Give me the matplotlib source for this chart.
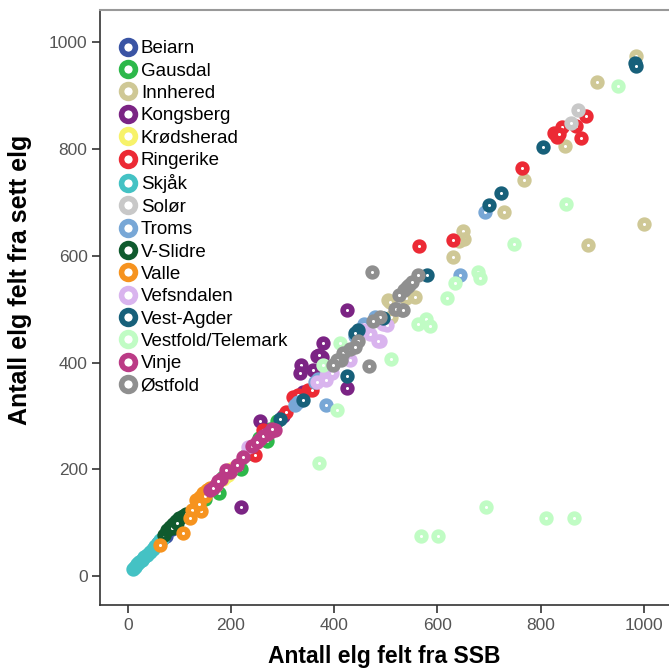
import matplotlib.pyplot as plt
from matplotlib.lines import Line2D

# --- data (x = Antall elg felt fra SSB, y = Antall elg felt fra sett elg) ---
groups = ["Beiarn", "Gausdal", "Innhered", "Kongsberg", "Krødsherad", "Ringerike",
          "Skjåk", "Solør", "Troms", "V-Slidre", "Valle", "Vefsndalen",
          "Vest-Agder", "Vestfold/Telemark", "Vinje", "Østfold"]

colors = ["#3a54a4", "#2db84a", "#cfc896", "#7b2484", "#f7f26a", "#ec2a35",
          "#44c2c4", "#c8c8c8", "#78a7d6", "#0f5a2e", "#f6931f", "#d9b4ee",
          "#17607a", "#c0fcc4", "#bb3b86", "#8f8f8f"]

beiarn_x = [58, 66, 74, 85]
beiarn_y = [62, 70, 76, 88]

gausdal_x = [177, 220, 269, 150, 165, 185, 200, 230, 255, 275, 290]
gausdal_y = [155, 200, 253, 145, 165, 185, 198, 228, 258, 275, 290]

innhered_x = [985, 909, 848, 768, 729, 1000, 892, 649, 652, 642, 631, 557, 505, 508, 511, 540]
innhered_y = [974, 925, 806, 742, 682, 659, 620, 646, 632, 627, 598, 523, 517, 514, 486, 520]

kongsberg_x = [425, 379, 366, 376, 371, 335, 334, 359, 424, 256, 220, 300, 340]
kongsberg_y = [498, 436, 412, 411, 414, 395, 381, 386, 353, 291, 129, 300, 345]

krodsherad_x = [170, 185, 190, 195, 200]
krodsherad_y = [170, 182, 188, 190, 200]

ringerike_x = [889, 868, 841, 826, 832, 836, 879, 764, 630, 565, 321, 350, 356, 306, 262, 246, 330]
ringerike_y = [861, 843, 841, 830, 822, 828, 820, 765, 630, 619, 336, 348, 348, 308, 273, 227, 340]

skjak_x = [10, 14, 18, 22, 27, 32, 37, 42, 48, 53, 58, 62, 67]
skjak_y = [14, 18, 22, 26, 31, 36, 40, 45, 51, 56, 62, 67, 70]

solor_x = [872, 859]
solor_y = [872, 849]

troms_x = [693, 643, 457, 369, 363, 324, 330, 385, 480, 440]
troms_y = [681, 564, 472, 370, 364, 320, 326, 320, 485, 450]

vslidre_x = [70, 76, 82, 88, 94, 100, 106, 112, 85, 96]
vslidre_y = [78, 86, 92, 98, 104, 108, 112, 117, 90, 100]

valle_x = [107, 63, 142, 125, 120, 133, 140, 146, 153, 137, 150, 160]
valle_y = [81, 58, 122, 124, 108, 142, 148, 155, 161, 135, 150, 165]

vefsndalen_x = [495, 489, 502, 484, 469, 431, 385, 395, 367, 385, 233, 455, 420]
vefsndalen_y = [473, 440, 470, 441, 454, 404, 375, 380, 364, 368, 242, 460, 420]

vestagder_x = [983, 985, 804, 724, 701, 579, 494, 447, 425, 339, 294, 440]
vestagder_y = [960, 955, 803, 718, 695, 563, 483, 461, 375, 330, 295, 455]

vestfold_x = [951, 849, 749, 678, 683, 634, 618, 563, 578, 586, 510, 694, 811, 865,
              569, 602, 411, 379, 405, 371]
vestfold_y = [918, 696, 621, 569, 559, 548, 520, 473, 481, 468, 407, 129, 109, 108,
              75, 75, 436, 395, 311, 211]

vinje_x = [285, 269, 256, 224, 211, 198, 159, 170, 180, 191, 165, 175, 240, 250, 262, 275, 280]
vinje_y = [273, 267, 256, 223, 208, 195, 161, 170, 182, 198, 165, 178, 243, 252, 262, 270, 275]

ostfold_x = [473, 562, 535, 541, 545, 550, 526, 518, 531, 520, 534, 489, 475, 446, 418,
             414, 405, 397, 468, 430, 440]
ostfold_y = [569, 563, 535, 542, 545, 550, 526, 500, 498, 501, 499, 486, 478, 441, 418,
             404, 404, 395, 393, 425, 430]

xs = [beiarn_x, gausdal_x, innhered_x, kongsberg_x, krodsherad_x, ringerike_x, skjak_x,
      solor_x, troms_x, vslidre_x, valle_x, vefsndalen_x, vestagder_x, vestfold_x,
      vinje_x, ostfold_x]
ys = [beiarn_y, gausdal_y, innhered_y, kongsberg_y, krodsherad_y, ringerike_y, skjak_y,
      solor_y, troms_y, vslidre_y, valle_y, vefsndalen_y, vestagder_y, vestfold_y,
      vinje_y, ostfold_y]

plt.rcParams["font.family"] = ["Liberation Sans", "DejaVu Sans"]

fig = plt.figure(figsize=(6.69, 6.68), dpi=100, facecolor="white")
ax = fig.add_axes([0.1495, 0.0943, 0.8505, 0.8907])

for x, y, c in zip(xs, ys, colors):
    ax.scatter(x, y, s=40, facecolors="white", edgecolors=c, linewidths=4.0, zorder=3)

ax.set_xlim(-54, 1049)
ax.set_ylim(-54, 1060)
ax.set_xticks([0, 200, 400, 600, 800, 1000])
ax.set_yticks([0, 200, 400, 600, 800, 1000])
ax.tick_params(direction="out", length=6, width=1.2, colors="#333333",
               labelsize=12.5, labelcolor="#555555", pad=3)

for side in ["left", "bottom"]:
    ax.spines[side].set_color("#333333")
    ax.spines[side].set_linewidth(1.2)
ax.spines["top"].set_color("#999999")
ax.spines["top"].set_linewidth(1.5)
ax.spines["right"].set_visible(False)

ax.set_xlabel("Antall elg felt fra SSB", fontsize=16.5, fontweight="bold", labelpad=9)
ax.set_ylabel("Antall elg felt fra sett elg", fontsize=18, fontweight="bold")
ax.yaxis.set_label_coords(-0.12, 0.546)

handles = [Line2D([], [], marker="o", linestyle="none", markersize=10,
                  markerfacecolor="white", markeredgecolor=c, markeredgewidth=4)
           for c in colors]
ax.legend(handles, groups, loc="upper left", bbox_to_anchor=(0.019, 0.962),
          frameon=False, fontsize=13.5, handlelength=1.0, handletextpad=0.2,
          labelspacing=0.28, borderaxespad=0.0, borderpad=0.4)

plt.savefig("out.png", dpi=100, facecolor=fig.get_facecolor())
